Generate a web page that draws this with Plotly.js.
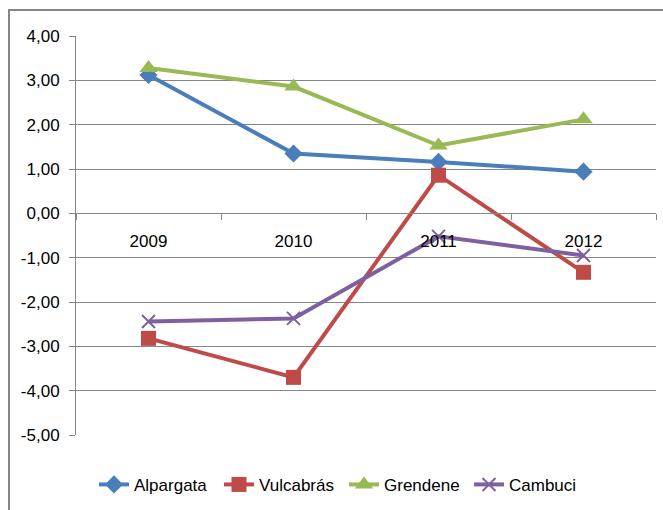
<!DOCTYPE html>
<html>
<head>
<meta charset="utf-8">
<script src="https://cdn.plot.ly/plotly-3.0.1.min.js"></script>
<style>html,body{margin:0;padding:0;background:#fff;}#chart{width:663px;height:510px;}</style>
</head>
<body>
<div id="chart"></div>
<script>
const years = ['2009', '2010', '2011', '2012'];
const alpargata = [3.12, 1.35, 1.16, 0.94];
const vulcabras = [-2.82, -3.70, 0.86, -1.33];
const grendene = [3.28, 2.86, 1.53, 2.12];
const cambuci = [-2.44, -2.37, -0.52, -0.95];
const yTickVals = [4, 3, 2, 1, 0, -1, -2, -3, -4, -5];
const yTickText = ['4,00', '3,00', '2,00', '1,00', '0,00', '-1,00', '-2,00', '-3,00', '-4,00', '-5,00'];

const FONT = '"Liberation Sans", Arial, sans-serif';

function tr(name, y, color, symbol, size, lineMarker) {
  return {
    x: years, y: y, name: name, type: 'scatter', mode: 'lines+markers',
    line: {color: color, width: 4},
    marker: Object.assign({symbol: symbol, size: size, color: color}, lineMarker || {})
  };
}

const data = [
  tr('Alpargata', alpargata, '#4A7EBB', 'diamond', 14),
  tr('Vulcabrás', vulcabras, '#BE4B48', 'square', 15),
  tr('Grendene', grendene, '#98B954', 'triangle-up', 16),
  tr('Cambuci', cambuci, '#7D60A0', 'x-thin-open', 13, {line: {color: '#7D60A0', width: 2}})
];

const layout = {
  width: 663, height: 510,
  margin: {l: 76, r: 7, t: 36, b: 75},
  paper_bgcolor: '#fff', plot_bgcolor: '#fff',
  font: {family: FONT, size: 17, color: '#000'},
  showlegend: true,
  legend: {orientation: 'h', x: (100 - 76 - 6) / 580, xanchor: 'left', y: -0.125, yanchor: 'middle',
           font: {family: FONT, size: 17}, tracegroupgap: 0,
           entrywidth: 80, entrywidthmode: 'pixels'},
  xaxis: {
    type: 'category', range: [-0.5, 3.5], anchor: 'free', position: 5/9,
    showline: true, linecolor: '#868686', linewidth: 1,
    showgrid: false, zeroline: false,
    ticks: 'outside', tickson: 'boundaries', ticklen: 6, tickcolor: '#868686',
    tickfont: {family: FONT, size: 17}, ticklabelstandoff: 12, fixedrange: true
  },
  yaxis: {
    range: [-5, 4], tickvals: yTickVals, ticktext: yTickText,
    showline: true, linecolor: '#868686', linewidth: 1,
    showgrid: true, gridcolor: '#868686', gridwidth: 1, zeroline: false,
    ticks: 'outside', ticklen: 6, tickcolor: '#868686',
    tickfont: {family: FONT, size: 17}, ticklabelstandoff: 6, fixedrange: true
  },
  shapes: [{
    type: 'rect', xref: 'paper', yref: 'paper',
    x0: (9 - 76) / 580, x1: 1.05, y0: -0.3, y1: 1 + (36 - 10) / 399,
    line: {color: '#868686', width: 2}, fillcolor: 'rgba(0,0,0,0)', layer: 'below'
  }]
};

Plotly.newPlot('chart', data, layout, {displayModeBar: false, staticPlot: true});
</script>
</body>
</html>
